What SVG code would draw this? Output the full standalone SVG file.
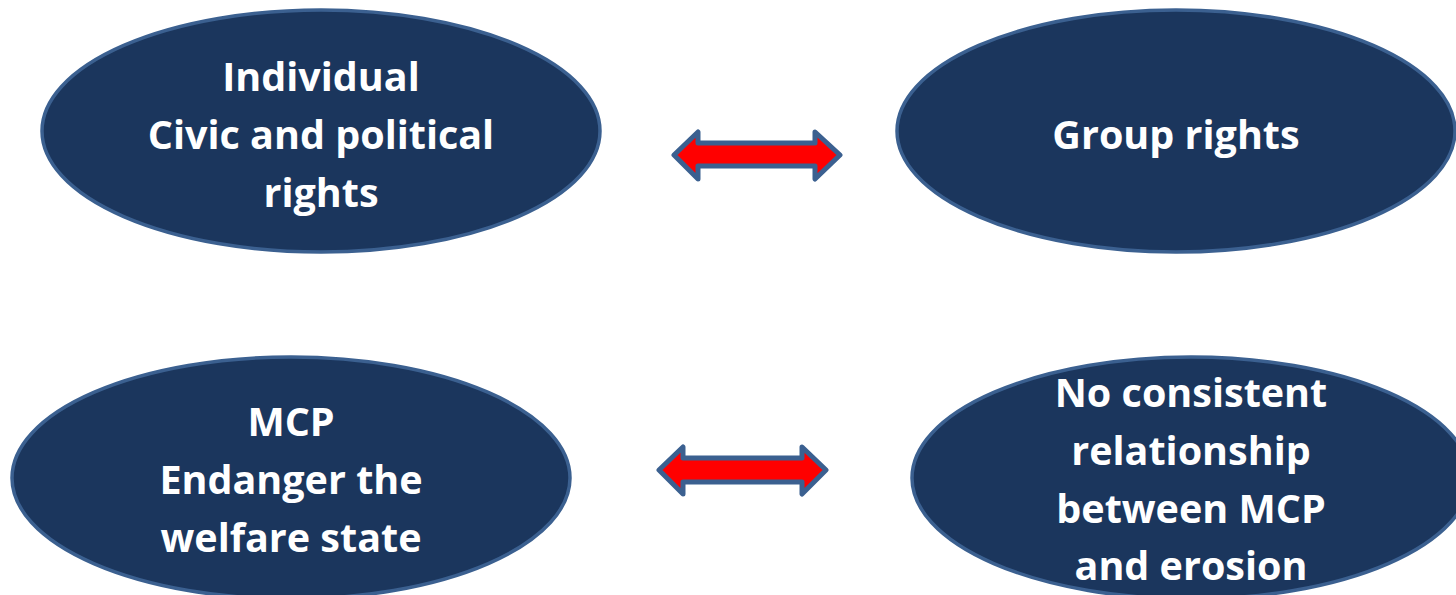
<svg xmlns="http://www.w3.org/2000/svg" width="1456" height="595" viewBox="0 0 1456 595">
<style>
.node ellipse{fill:#1b365d;stroke:#3b6090;stroke-width:3.5}
.node text{fill:#fff;font-family:"Open Sans","Liberation Sans",sans-serif;font-weight:bold;font-size:39.5px;text-anchor:middle}
.arr{fill:#ff0000;stroke:#3b6090;stroke-width:5;stroke-linejoin:round}
</style>
<rect width="1456" height="595" fill="#fff"/>
<g id="n1" class="node">
<ellipse cx="321" cy="131" rx="279" ry="121"/>
<text x="321" y="91">Individual</text>
<text x="321" y="149">Civic and political</text>
<text x="321" y="207">rights</text>
</g>
<g id="n2" class="node">
<ellipse cx="1176" cy="131" rx="279" ry="121"/>
<text x="1176" y="149">Group rights</text>
</g>
<g id="n3" class="node">
<ellipse cx="291" cy="478" rx="279" ry="121"/>
<text x="291" y="436">MCP</text>
<text x="291" y="494">Endanger the</text>
<text x="291" y="552">welfare state</text>
</g>
<g id="n4" class="node">
<ellipse cx="1191" cy="478" rx="279" ry="121"/>
<text x="1191" y="407">No consistent</text>
<text x="1191" y="465">relationship</text>
<text x="1191" y="523">between MCP</text>
<text x="1191" y="580">and erosion</text>
</g>
<g id="connectors">
<polygon class="arr" points="674,155 698,132 698,143 815,143 815,132 840,155 815,179 815,166 698,166 698,179"/>
<polygon class="arr" points="659,470 683,447 683,458 802,458 802,447 826,470 802,494 802,482 683,482 683,494"/>
</g>
</svg>
